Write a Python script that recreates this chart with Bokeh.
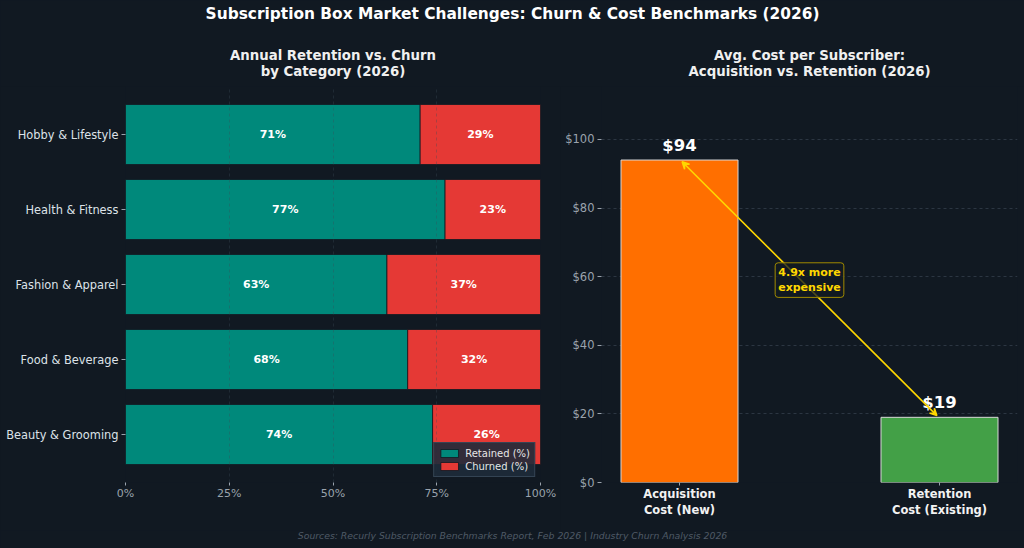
from bokeh.plotting import figure
from bokeh.layouts import column, row
from bokeh.models import (FactorRange, Range1d, Label, Arrow, VeeHead,
                          FixedTicker, NumeralTickFormatter, ColumnDataSource)
from bokeh.embed import file_html
from bokeh.resources import INLINE

# ---- data -------------------------------------------------------------
categories = ["Hobby & Lifestyle", "Health & Fitness", "Fashion & Apparel",
              "Food & Beverage", "Beauty & Grooming"]
retained = [71, 77, 63, 68, 74]
churned = [29, 23, 37, 32, 26]

cost_labels = ["Acquisition\nCost (New)", "Retention\nCost (Existing)"]
cost_values = [94, 19]

# ---- style ------------------------------------------------------------
BG = "#111922"
FONT = "DejaVu Sans"
TEAL = "#00897B"
RED = "#E53935"
ORANGE = "#FF6F00"
GREEN = "#43A047"
GOLD = "#FFD700"
TICK = "#9aa3ad"

W, HEAD_H, FOOT_H = 1024, 86, 18
LEFT_W, RIGHT_W = 560, 464
LEFT_BORDERS = (125, 20)    # left / right margins around the left frame
RIGHT_BORDERS = (41, 7)     # left / right margins around the right frame


def blank(width, height):
    f = figure(width=width, height=height, x_range=(0, width), y_range=(0, height),
               output_backend="svg", toolbar_location=None,
               x_axis_location=None, y_axis_location=None, min_border=0)
    f.background_fill_color = BG
    f.border_fill_color = BG
    f.outline_line_color = None
    f.grid.visible = False
    return f


def text_at(f, x, y_from_top, text, size, style="bold", color="#f0f0f0"):
    f.add_layout(Label(x=x, y=f.height - y_from_top, text=text, text_align="center",
                       text_baseline="middle", text_font=FONT, text_font_size=size,
                       text_font_style=style, text_color=color))


def style(p):
    p.background_fill_color = BG
    p.border_fill_color = BG
    p.outline_line_color = None
    for ax in p.axis:
        ax.axis_line_color = None
        ax.major_tick_line_color = TICK
        ax.minor_tick_line_color = None
        ax.major_tick_in = 0
        ax.major_label_text_font = FONT
        ax.major_label_text_font_size = "11px"
        ax.major_label_text_color = TICK


# ---- header: main title and the two panel titles ------------------------
header = blank(W, HEAD_H)
text_at(header, W / 2, 13, "Subscription Box Market Challenges: Churn & Cost Benchmarks (2026)",
        "15.4px", color="#ffffff")
left_c = LEFT_BORDERS[0] + (LEFT_W - sum(LEFT_BORDERS)) / 2
right_c = LEFT_W + RIGHT_BORDERS[0] + (RIGHT_W - sum(RIGHT_BORDERS)) / 2
text_at(header, left_c, 55, "Annual Retention vs. Churn", "13.3px")
text_at(header, left_c, 71, "by Category (2026)", "13.3px")
text_at(header, right_c, 55, "Avg. Cost per Subscriber:", "13.3px")
text_at(header, right_c, 71, "Acquisition vs. Retention (2026)", "13.3px")

# ---- left: retention vs churn ----------------------------------------
y_factors = list(reversed(categories))
p1 = figure(width=LEFT_W, height=444, y_range=FactorRange(factors=y_factors, range_padding=0.056),
            x_range=Range1d(0, 100), output_backend="svg", toolbar_location=None,
            min_border_left=LEFT_BORDERS[0], min_border_right=LEFT_BORDERS[1],
            min_border_top=0, min_border_bottom=48)
style(p1)

src = ColumnDataSource(dict(
    cat=categories, ret=retained, churn=churned,
    total=[r + c for r, c in zip(retained, churned)],
    ret_mid=[r / 2 for r in retained],
    churn_mid=[r + c / 2 for r, c in zip(retained, churned)],
    ret_txt=[f"{r}%" for r in retained],
    churn_txt=[f"{c}%" for c in churned],
))
p1.hbar(y="cat", left=0, right="ret", height=0.8, source=src, fill_color=TEAL,
        line_color=BG, line_width=0.8, legend_label="Retained (%)")
p1.hbar(y="cat", left="ret", right="total", height=0.8, source=src, fill_color=RED,
        line_color=BG, line_width=0.8, legend_label="Churned (%)")
p1.text(x="ret_mid", y="cat", text="ret_txt", source=src, text_align="center",
        text_baseline="middle", text_font_size="11px", text_font_style="bold",
        text_color="white", text_font={"value": FONT})
p1.text(x="churn_mid", y="cat", text="churn_txt", source=src, text_align="center",
        text_baseline="middle", text_font_size="11px", text_font_style="bold",
        text_color="white", text_font={"value": FONT})

p1.xaxis.ticker = FixedTicker(ticks=[0, 25, 50, 75, 100])
p1.xaxis.major_label_overrides = {0: "0%", 25: "25%", 50: "50%", 75: "75%", 100: "100%"}
p1.xaxis.major_tick_out = 3
p1.xaxis.major_label_standoff = 1
p1.yaxis.major_tick_out = 4
p1.yaxis.major_label_standoff = 3
p1.yaxis.major_label_text_font_size = "11.4px"
p1.yaxis.major_label_text_color = "#dde2e8"
p1.ygrid.visible = False
p1.xgrid.grid_line_color = "#3a4a55"
p1.xgrid.grid_line_alpha = 0.35
p1.xgrid.grid_line_dash = "3 3"
p1.xgrid.level = "overlay"

lg = p1.legend[0]
lg.location = "bottom_right"
lg.margin = 5
lg.padding = 4
lg.spacing = 1
lg.label_text_font = FONT
lg.label_text_font_size = "10px"
lg.label_text_color = "#e6e6e6"
lg.label_height = 12
lg.glyph_height = 10
lg.glyph_width = 22
lg.background_fill_color = "#1e2b3a"
lg.background_fill_alpha = 0.9
lg.border_line_color = "#3a4a5a"
lg.border_line_alpha = 0.8

# ---- right: acquisition vs retention cost ------------------------------
acq, ret = cost_values
p2 = figure(width=RIGHT_W, height=444, x_range=Range1d(-0.3, 1.3), y_range=Range1d(0, acq * 1.228),
            output_backend="svg", toolbar_location=None,
            min_border_left=RIGHT_BORDERS[0], min_border_right=RIGHT_BORDERS[1],
            min_border_top=0, min_border_bottom=48)
style(p2)

xs = list(range(len(cost_values)))
p2.vbar(x=xs, top=cost_values, width=0.45, fill_color=[ORANGE, GREEN],
        line_color="#d8d8d8", line_width=1)
p2.text(x=xs, y=[v + 1.6 for v in cost_values], text=[f"${v}" for v in cost_values],
        text_align="center", text_baseline="bottom", text_font_size="16.5px",
        text_font_style="bold", text_color="white", text_font={"value": FONT})

p2.yaxis.ticker = FixedTicker(ticks=[0, 20, 40, 60, 80, 100])
p2.yaxis.formatter = NumeralTickFormatter(format="$0")
p2.yaxis.major_label_text_font_size = "11.5px"
p2.yaxis.major_tick_out = 4
p2.yaxis.major_label_standoff = 3
p2.xaxis.ticker = FixedTicker(ticks=xs)
p2.xaxis.major_label_overrides = {i: lab for i, lab in zip(xs, cost_labels)}
p2.xaxis.major_label_text_color = "#f2f2f2"
p2.xaxis.major_label_text_font_style = "bold"
p2.xaxis.major_label_text_font_size = "11.5px"
p2.xaxis.major_tick_out = 3
p2.xaxis.major_label_standoff = 1
p2.xgrid.visible = False
p2.ygrid.grid_line_color = "#2c3642"
p2.ygrid.grid_line_dash = "3 3"

head_s = VeeHead(size=7, line_color=GOLD, line_width=1.5, fill_color=GOLD)
head_e = VeeHead(size=7, line_color=GOLD, line_width=1.5, fill_color=GOLD)
p2.add_layout(Arrow(x_start=1 - 0.01, y_start=ret + 0.5, x_end=0.01, y_end=acq - 0.5,
                    start=head_s, end=head_e, line_color=GOLD, line_width=1.6))
p2.add_layout(Label(x=0.5, y=(acq + ret) / 2 + 2.5, text=f"{acq / ret:.1f}x more\nexpensive",
                    text_align="center", text_baseline="middle", text_font=FONT,
                    text_font_size="11px", text_font_style="bold", text_color=GOLD,
                    background_fill_color=BG, background_fill_alpha=0.75,
                    border_line_color="#a08a00", border_line_width=1,
                    border_radius=3, padding=3))

# ---- footer -----------------------------------------------------------
footer = blank(W, FOOT_H)
text_at(footer, W / 2, 5, "Sources: Recurly Subscription Benchmarks Report, Feb 2026 | Industry Churn Analysis 2026",
        "9.3px", style="italic", color="#4f5a66")

layout = column(header, row(p1, p2, spacing=0), footer, spacing=0)
layout.styles = {"background-color": BG}

with open("out.html", "w") as f:
    f.write(file_html(layout, INLINE))
